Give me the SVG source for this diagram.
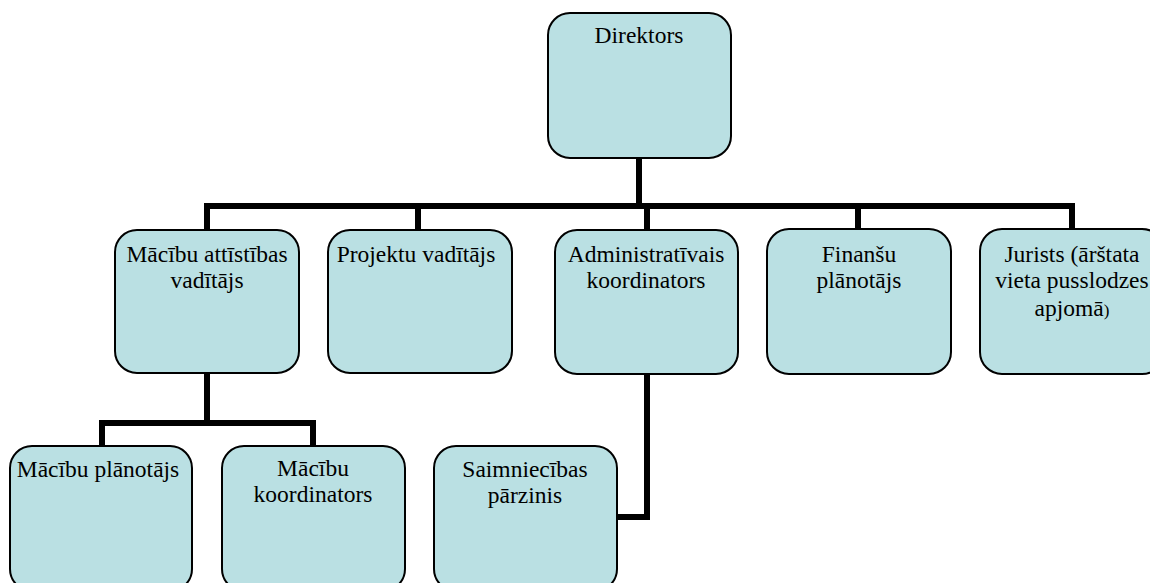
<svg xmlns="http://www.w3.org/2000/svg" width="1150" height="583" viewBox="0 0 1150 583">
<style>
.box{fill:#BAE0E3;stroke:#000;stroke-width:2}
.c{fill:none;stroke:#000;stroke-width:6}
</style>
<rect width="1150" height="583" fill="#fff"/>
<g id="connectors">
<path class="c" d="M639 158V206"/>
<path class="c" d="M207 230V206H1072V230"/>
<path class="c" d="M418 206V230"/>
<path class="c" d="M647 206V230"/>
<path class="c" d="M858 206V230"/>
<path class="c" d="M207 373V423"/>
<path class="c" d="M102 446V423H313V446"/>
<path class="c" d="M647 374V517H617"/>
</g>
<g id="direktors">
<rect class="box" x="548" y="13" width="183" height="145" rx="22"/>
<text font-family="Liberation Serif" font-size="23.5" text-anchor="middle" x="639" y="43">Direktors</text>
</g>
<g id="macibu-attistibas">
<rect class="box" x="115" y="230" width="184" height="143" rx="22"/>
<text font-family="Liberation Serif" font-size="23.5" text-anchor="middle" x="207" y="262">Mācību attīstības</text>
<text font-family="Liberation Serif" font-size="23.5" text-anchor="middle" x="207" y="288">vadītājs</text>
</g>
<g id="projektu">
<rect class="box" x="328" y="230" width="184" height="143" rx="22"/>
<text font-family="Liberation Serif" font-size="23.5" text-anchor="middle" x="416" y="262">Projektu vadītājs</text>
</g>
<g id="administrativais">
<rect class="box" x="555" y="230" width="183" height="144" rx="22"/>
<text font-family="Liberation Serif" font-size="23.5" text-anchor="middle" x="646" y="262">Administratīvais</text>
<text font-family="Liberation Serif" font-size="23.5" text-anchor="middle" x="646" y="288">koordinators</text>
</g>
<g id="finansu">
<rect class="box" x="767" y="229" width="184" height="145" rx="22"/>
<text font-family="Liberation Serif" font-size="23.5" text-anchor="middle" x="859" y="262">Finanšu</text>
<text font-family="Liberation Serif" font-size="23.5" text-anchor="middle" x="859" y="288">plānotājs</text>
</g>
<g id="jurists">
<rect class="box" x="980" y="229" width="184" height="145" rx="22"/>
<text font-family="Liberation Serif" font-size="23.5" text-anchor="middle" x="1072" y="262">Jurists (ārštata</text>
<text font-family="Liberation Serif" font-size="23.5" text-anchor="middle" x="1072" y="288">vieta pusslodzes</text>
<text font-family="Liberation Serif" font-size="23.5" text-anchor="middle" x="1072" y="316">apjomā<tspan font-size="17">)</tspan></text>
</g>
<g id="macibu-planotajs">
<rect class="box" x="10" y="446" width="182" height="145" rx="22"/>
<text font-family="Liberation Serif" font-size="23.5" text-anchor="middle" x="98" y="477">Mācību plānotājs</text>
</g>
<g id="macibu-koordinators">
<rect class="box" x="222" y="446" width="183" height="145" rx="22"/>
<text font-family="Liberation Serif" font-size="23.5" text-anchor="middle" x="313" y="476">Mācību</text>
<text font-family="Liberation Serif" font-size="23.5" text-anchor="middle" x="313" y="502">koordinators</text>
</g>
<g id="saimniecibas">
<rect class="box" x="434" y="446" width="183" height="145" rx="22"/>
<text font-family="Liberation Serif" font-size="23.5" text-anchor="middle" x="525" y="477">Saimniecības</text>
<text font-family="Liberation Serif" font-size="23.5" text-anchor="middle" x="525" y="503">pārzinis</text>
</g>
</svg>
